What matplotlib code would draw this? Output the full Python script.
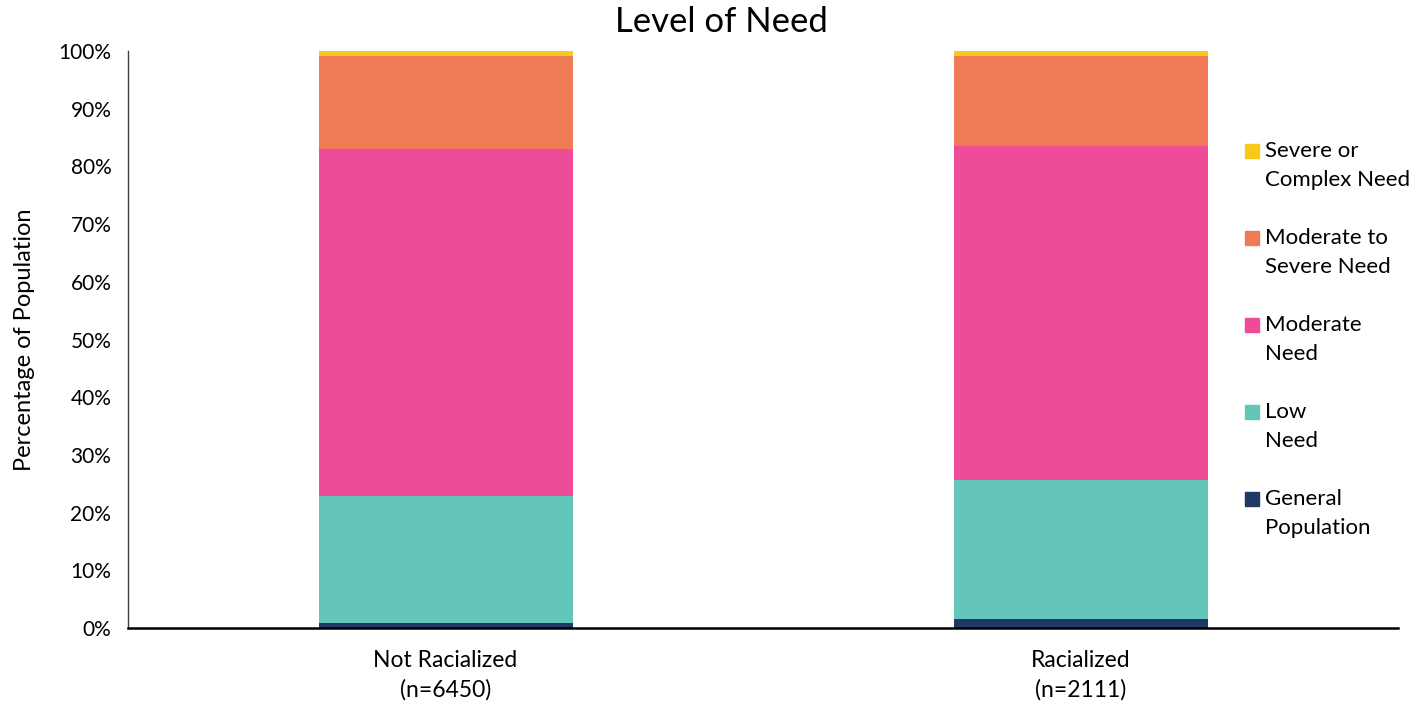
import numpy as np
import matplotlib.pyplot as plt
from matplotlib.patches import Rectangle
from matplotlib.ticker import PercentFormatter

plt.rcParams['font.family'] = ['Lato', 'DejaVu Sans']

# groups and stacked shares (percent of population)
groups = ['Not Racialized\n(n=6450)', 'Racialized\n(n=2111)']
general_pop = [0.8, 1.6]
low_need = [22.0, 24.0]
moderate_need = [60.2, 58.0]
mod_severe_need = [16.2, 15.6]
severe_complex = [0.8, 0.8]

levels = [
    ('General\nPopulation', general_pop, '#203864'),
    ('Low\nNeed', low_need, '#64C6BA'),
    ('Moderate\nNeed', moderate_need, '#EE4B98'),
    ('Moderate to\nSevere Need', mod_severe_need, '#EE7B55'),
    ('Severe or\nComplex Need', severe_complex, '#F7C918'),
]

W, H = 1423, 710
fig = plt.figure(figsize=(W / 100, H / 100), dpi=100)
ax = fig.add_axes([128 / W, 1 - 628 / H, 1270 / W, 577 / H])

x = np.arange(len(groups))
bottom = np.zeros(len(groups))
for name, vals, col in levels:
    ax.bar(x, vals, width=0.4, bottom=bottom, color=col, label=name)
    bottom += np.array(vals)

ax.set_xlim(-0.5, 1.5)
ax.set_ylim(0, 100)
ax.set_yticks(np.arange(0, 101, 10))
ax.yaxis.set_major_formatter(PercentFormatter(decimals=0))
ax.set_xticks(x)
ax.set_xticklabels(groups, fontsize=16.5, linespacing=1.45)
ax.tick_params(axis='both', length=0)
ax.tick_params(axis='y', labelsize=15, pad=12)
ax.tick_params(axis='x', pad=16)

for s in ['top', 'right']:
    ax.spines[s].set_visible(False)
ax.spines['bottom'].set_linewidth(1.8)
ax.spines['bottom'].set_color('black')
ax.spines['left'].set_linewidth(1.0)
ax.spines['left'].set_color('#404040')

ax.set_ylabel('Percentage of Population', fontsize=17)
ax.yaxis.set_label_coords(-0.073, 0.5)
fig.text(721 / W, 1 - 22 / H, 'Level of Need', fontsize=25, ha='center', va='center')

# legend: swatch beside the first line of each two-line label, top entry first
for i, (name, _, col) in enumerate(levels[::-1]):
    ytop = 151 + 87 * i
    fig.patches.append(Rectangle((1245 / W, 1 - (ytop + 7) / H), 14 / W, 14 / H,
                                 transform=fig.transFigure, color=col))
    for j, line in enumerate(name.split('\n')):
        fig.text(1265 / W, 1 - (ytop + 29 * j) / H, line, fontsize=16,
                 ha='left', va='center')

fig.savefig('out.png', dpi=100)
